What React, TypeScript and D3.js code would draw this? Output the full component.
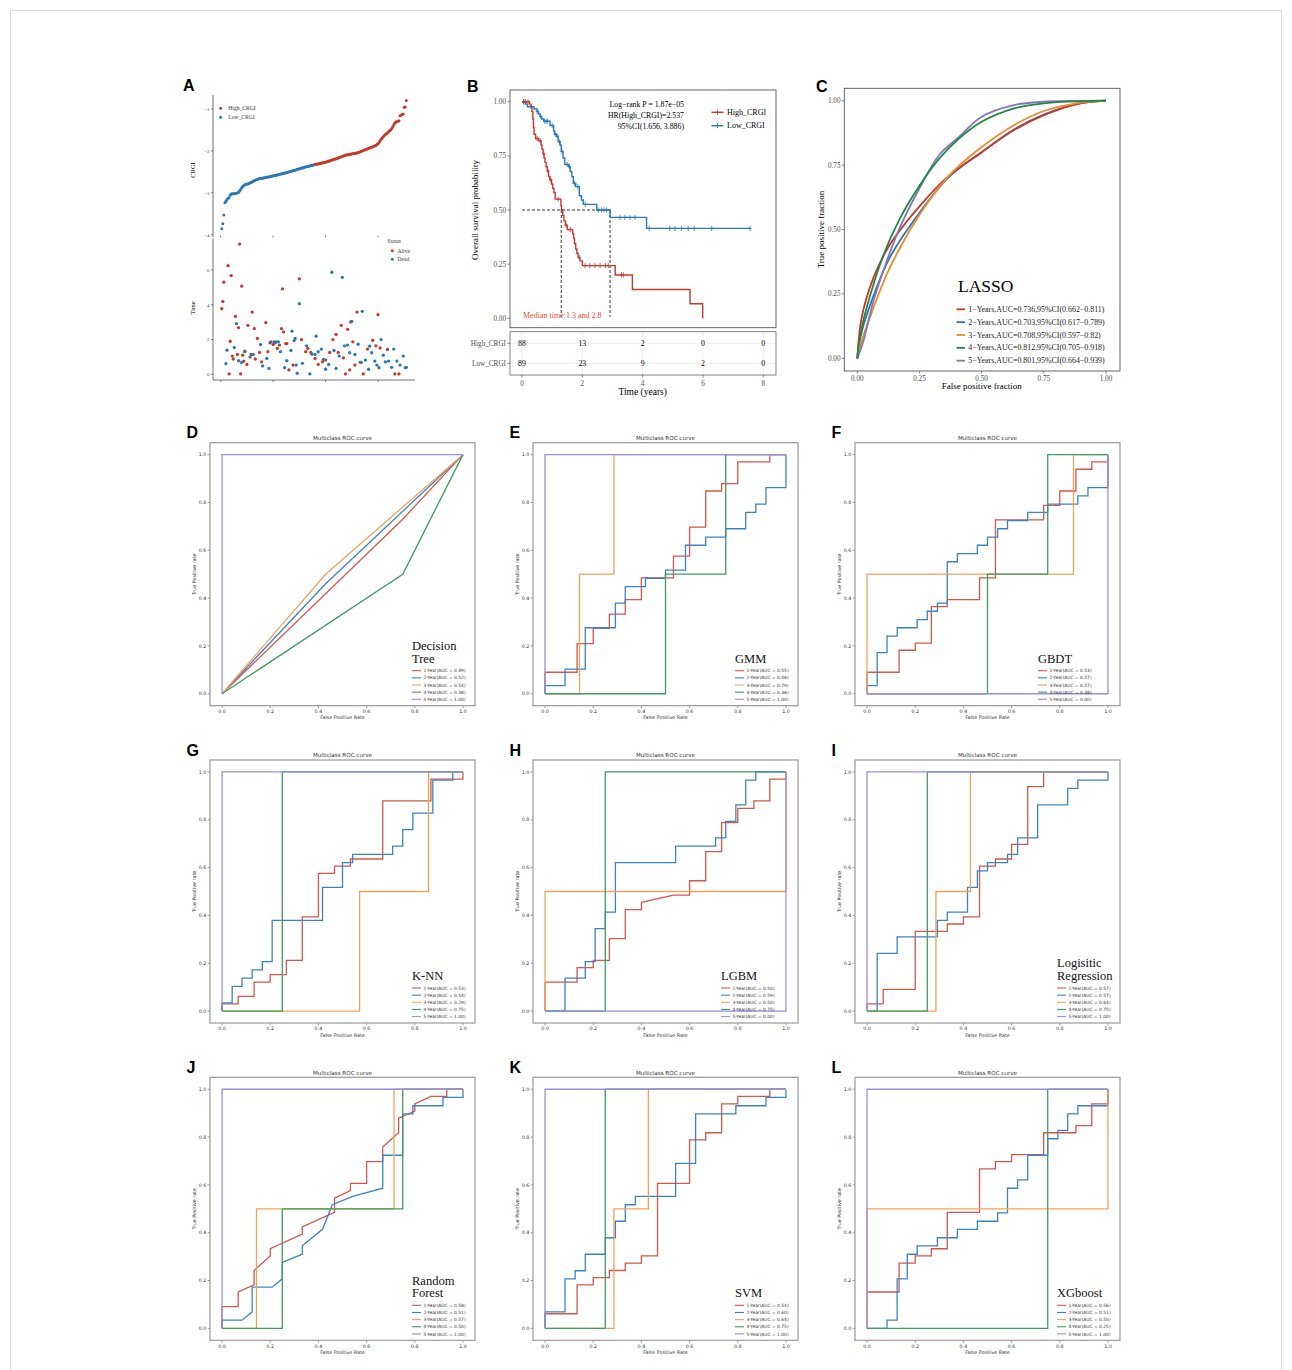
import * as d3 from 'd3';

type Pt = [number, number];

const SERIF = '"Liberation Serif", "Times New Roman", serif';
const SANS = '"DejaVu Sans", sans-serif';
const ARIAL = '"Liberation Sans", Arial, sans-serif';

// ---------------- Panel A : risk score and status ----------------
const crgiLow = [
  -3.86, -3.74, -3.53, -3.24, -3.2, -3.16, -3.13, -3.12, -3.06, -3.03,
  -3.02, -3.02, -3.02, -3.01, -3.01, -3.0, -2.99, -2.96, -2.92, -2.88,
  -2.85, -2.83, -2.81, -2.8, -2.79, -2.79, -2.78, -2.76, -2.75, -2.74,
  -2.72, -2.71, -2.7, -2.69, -2.68, -2.67, -2.66, -2.66, -2.65, -2.65,
  -2.64, -2.64, -2.63, -2.63, -2.62, -2.62, -2.61, -2.61, -2.6, -2.6,
  -2.59, -2.59, -2.58, -2.57, -2.57, -2.56, -2.55, -2.55, -2.54, -2.54,
  -2.53, -2.52, -2.52, -2.51, -2.5, -2.5, -2.49, -2.48, -2.47, -2.47,
  -2.46, -2.45, -2.44, -2.43, -2.43, -2.42, -2.41, -2.41, -2.4, -2.39,
  -2.38, -2.38, -2.37, -2.36, -2.36, -2.35, -2.34, -2.34, -2.33,
];
const crgiHigh = [
  -2.32, -2.32, -2.31, -2.31, -2.3, -2.3, -2.29, -2.29, -2.28, -2.27,
  -2.27, -2.26, -2.25, -2.24, -2.24, -2.23, -2.22, -2.21, -2.2, -2.2,
  -2.19, -2.18, -2.17, -2.16, -2.15, -2.14, -2.13, -2.12, -2.11, -2.1,
  -2.1, -2.09, -2.09, -2.08, -2.08, -2.07, -2.07, -2.06, -2.06, -2.05,
  -2.05, -2.04, -2.03, -2.02, -2.01, -2.0, -1.99, -1.98, -1.97, -1.96,
  -1.95, -1.94, -1.93, -1.92, -1.91, -1.9, -1.89, -1.88, -1.87, -1.85,
  -1.83, -1.8, -1.76, -1.72, -1.69, -1.66, -1.63, -1.61, -1.59, -1.57,
  -1.54, -1.52, -1.5, -1.47, -1.43, -1.38, -1.34, -1.31, -1.3, -1.29,
  -1.28, -1.16, -1.15, -1.13, -1.12, -0.96, -0.95, -0.8,
];
// [patient rank, time in years]
const alivePts: Pt[] = [
  [1, 3.77], [2, 4.19], [3, 5.3], [7, 6.25], [8, 0.02], [9, 1.9], [10, 5.68], [11, 1.05],
  [12, 0.88], [14, 3.33], [16, 1.14], [17, 2.69], [18, 7.49], [19, 0.02], [20, 5.07], [21, 1.1],
  [22, 0.76], [23, 1.33], [25, 0.57], [26, 2.82], [29, 1.14], [30, 3.58], [32, 2.63], [33, 0.88],
  [35, 2.06], [37, 1.26], [39, 0.72], [43, 2.97], [45, 1.3], [47, 1.81], [50, 1.71], [51, 1.87],
  [54, 1.49], [56, 1.68], [58, 2.63], [59, 4.91], [60, 2.44], [62, 1.77], [63, 1.77], [65, 0.25],
  [69, 0.53], [75, 5.49], [77, 2.0], [81, 1.3], [83, 1.49], [86, 1.26], [90, 0.91], [93, 0.57],
  [97, 0.72], [100, 0.82], [104, 1.26], [107, 2.0], [110, 2.29], [112, 1.26], [115, 2.82], [117, 0.95],
  [119, 0.02], [121, 2.59], [123, 0.25], [124, 3.01], [126, 1.87], [128, 0.53], [130, 3.58], [134, 0.69],
  [136, 0.02], [140, 1.45], [145, 1.96], [148, 1.64], [150, 3.43], [152, 1.52], [159, 1.43], [166, 0.02],
  [170, 0.02],
];
const deadPts: Pt[] = [
  [5, 0.61], [6, 1.39], [13, 1.54], [15, 2.91], [17, 0.78], [20, 0.69], [23, 1.3], [28, 0.99],
  [31, 1.14], [38, 1.71], [40, 0.48], [44, 0.91], [46, 0.34], [48, 1.87], [52, 1.81], [53, 1.87],
  [55, 1.87], [57, 1.3], [61, 0.38], [63, 0.78], [67, 1.37], [68, 2.48], [70, 1.94], [71, 2.06],
  [72, 0.53], [73, 0.06], [75, 4.06], [78, 0.63], [82, 1.64], [85, 0.02], [87, 1.16], [90, 1.14],
  [91, 2.19], [93, 1.3], [96, 1.45], [98, 0.86], [100, 0.29], [103, 0.57], [106, 5.87], [108, 1.37],
  [110, 0.34], [113, 1.05], [116, 5.58], [118, 1.64], [121, 1.68], [123, 1.24], [125, 3.05], [128, 1.14],
  [131, 1.73], [133, 0.69], [135, 3.62], [138, 0.82], [141, 0.29], [142, 1.62], [144, 1.24], [147, 0.76],
  [149, 0.53], [151, 0.38], [153, 2.0], [155, 1.1], [157, 0.72], [160, 0.76], [163, 0.4], [165, 1.45],
  [168, 0.76], [171, 0.53], [174, 1.05], [176, 0.38], [177, 0.4],
];

// ---------------- Panel B : Kaplan-Meier ----------------
const kmHighT = [0, 0.25, 0.3, 0.33, 0.36, 0.38, 0.4, 0.45, 0.55, 0.63, 0.66, 0.7, 0.73, 0.76, 0.8, 0.84, 0.88, 0.92, 0.98, 1.02, 1.06, 1.1, 1.29, 1.31, 1.35, 1.39, 1.44, 1.5, 1.68, 1.71, 1.74, 1.78, 1.82, 1.86, 1.92, 2.0, 3.09, 3.66, 5.57, 5.99];
const kmHighS = [1, 0.989, 0.977, 0.955, 0.92, 0.88, 0.85, 0.83, 0.82, 0.8, 0.78, 0.76, 0.74, 0.72, 0.7, 0.68, 0.655, 0.64, 0.62, 0.6, 0.58, 0.55, 0.52, 0.5, 0.475, 0.45, 0.43, 0.41, 0.39, 0.37, 0.345, 0.32, 0.3, 0.28, 0.265, 0.243, 0.2, 0.133, 0.067, 0];
const kmLowT = [0, 0.12, 0.18, 0.4, 0.5, 0.55, 0.6, 0.65, 0.72, 0.93, 1.05, 1.08, 1.15, 1.2, 1.26, 1.3, 1.36, 1.42, 1.55, 1.6, 1.65, 1.7, 1.78, 1.9, 1.97, 2.03, 2.48, 2.92, 4.13, 7.56];
const kmLowS = [1, 0.989, 0.977, 0.966, 0.955, 0.943, 0.932, 0.92, 0.91, 0.89, 0.865, 0.85, 0.84, 0.815, 0.8, 0.77, 0.74, 0.71, 0.7, 0.677, 0.654, 0.623, 0.608, 0.566, 0.546, 0.526, 0.5, 0.466, 0.415, 0.415];
const censorHigh = [0.05, 0.12, 0.2, 0.5, 0.6, 0.72, 0.86, 0.95, 1.2, 1.46, 1.6, 1.9, 2.09, 2.25, 2.42, 2.59, 2.77, 2.86, 3.3, 3.36];
const censorLow = [0.05, 0.1, 0.3, 0.5, 0.62, 0.75, 0.8, 0.85, 1.0, 1.1, 1.17, 1.24, 1.33, 1.5, 1.57, 1.74, 1.85, 2.1, 2.53, 2.64, 2.72, 2.8, 3.25, 3.41, 3.58, 3.75, 4.22, 4.9, 5.07, 5.29, 5.51, 5.71, 6.29, 7.56];
const riskTimes = [0, 2, 4, 6, 8];
const riskHigh = [88, 13, 2, 0, 0];
const riskLow = [89, 23, 9, 2, 0];
const kmGroups = ['High_CRGI', 'Low_CRGI'];

// ---------------- Panel C : LASSO time ROC ----------------
const lassoRed: Pt[] = [[0, 0], [0.017, 0.155], [0.064, 0.31], [0.13, 0.44], [0.25, 0.59], [0.37, 0.71], [0.5, 0.8], [0.63, 0.886], [0.75, 0.944], [0.88, 0.986], [1, 1]];
const lassoBlue: Pt[] = [[0, 0], [0.017, 0.1], [0.064, 0.24], [0.13, 0.39], [0.25, 0.565], [0.37, 0.705], [0.5, 0.8], [0.63, 0.888], [0.75, 0.946], [0.88, 0.987], [1, 1]];
const lassoOrange: Pt[] = [[0, 0], [0.017, 0.065], [0.064, 0.194], [0.13, 0.35], [0.25, 0.557], [0.37, 0.71], [0.5, 0.82], [0.63, 0.905], [0.75, 0.96], [0.88, 0.99], [1, 1]];
const lassoGreen: Pt[] = [[0, 0], [0.01, 0.08], [0.037, 0.194], [0.105, 0.4], [0.17, 0.54], [0.25, 0.67], [0.33, 0.776], [0.41, 0.854], [0.5, 0.918], [0.63, 0.97], [0.75, 0.99], [1, 1]];
const lassoPurple: Pt[] = [[0, 0], [0.024, 0.065], [0.064, 0.22], [0.118, 0.376], [0.17, 0.505], [0.25, 0.66], [0.33, 0.79], [0.41, 0.86], [0.5, 0.938], [0.63, 0.983], [0.75, 0.996], [1, 1]];
const lassoLabels = [
  '1\u2212Years,AUC=0.736,95%CI(0.662\u22120.811)',
  '2\u2212Years,AUC=0.703,95%CI(0.617\u22120.789)',
  '3\u2212Years,AUC=0.708,95%CI(0.597\u22120.82)',
  '4\u2212Years,AUC=0.812,95%CI(0.705\u22120.918)',
  '5\u2212Years,AUC=0.801,95%CI(0.664\u22120.939)',
];
const lassoColors = ['#c9362c', '#2a72b5', '#ee8a2a', '#1f8a3d', '#8575bb'];

// ---------------- Panels D-L : ML model ROC curves ----------------
const rocYears = ['1-Year', '2-Year', '3-Year', '4-Year', '5-Year'];
const rocColors = ['#d4564c', '#3b84c4', '#f2a35a', '#3d9c62', '#9b8fd8'];
const modelLetters = ['D', 'E', 'F', 'G', 'H', 'I', 'J', 'K', 'L'];
const modelTitles = [['Decision', 'Tree'], ['GMM'], ['GBDT'], ['K-NN'], ['LGBM'], ['Logisitic', 'Regression'], ['Random', 'Forest'], ['SVM'], ['XGboost']];

const dtAuc = [0.49, 0.52, 0.54, 0.38, 1.0];
const dtCurves: Pt[][] = [
  [[0, 0], [0.75, 0.73], [1, 1]],
  [[0, 0], [0.43, 0.46], [1, 1]],
  [[0, 0], [0.43, 0.5], [1, 1]],
  [[0, 0], [0.75, 0.5], [1, 1]],
  [[0, 0], [0, 1], [1, 1]],
];
const gmmAuc = [0.55, 0.48, 0.79, 0.38, 1.0];
const gmmCurves: Pt[][] = [
  [[0, 0], [0, 0.09], [0.133, 0.09], [0.133, 0.21], [0.2, 0.21], [0.2, 0.273], [0.267, 0.273], [0.267, 0.333], [0.333, 0.333], [0.333, 0.394], [0.4, 0.394], [0.4, 0.485], [0.533, 0.485], [0.533, 0.576], [0.6, 0.576], [0.6, 0.697], [0.667, 0.697], [0.667, 0.848], [0.733, 0.848], [0.733, 0.879], [0.8, 0.879], [0.8, 0.97], [0.933, 0.97], [0.933, 1], [1, 1]],
  [[0, 0], [0, 0.034], [0.083, 0.034], [0.083, 0.103], [0.167, 0.103], [0.167, 0.276], [0.292, 0.276], [0.292, 0.379], [0.333, 0.379], [0.333, 0.448], [0.417, 0.448], [0.417, 0.483], [0.5, 0.483], [0.5, 0.517], [0.583, 0.517], [0.583, 0.621], [0.667, 0.621], [0.667, 0.655], [0.75, 0.655], [0.75, 0.69], [0.833, 0.69], [0.833, 0.759], [0.875, 0.759], [0.875, 0.793], [0.917, 0.793], [0.917, 0.862], [1, 0.862], [1, 1]],
  [[0, 0], [0.143, 0], [0.143, 0.5], [0.286, 0.5], [0.286, 1], [1, 1]],
  [[0, 0], [0.5, 0], [0.5, 0.5], [0.75, 0.5], [0.75, 1], [1, 1]],
  [[0, 0], [0, 1], [1, 1]],
];
const gbdtAuc = [0.53, 0.57, 0.57, 0.38, 0.0];
const gbdtCurves: Pt[][] = [
  [[0, 0], [0, 0.09], [0.133, 0.09], [0.133, 0.182], [0.2, 0.182], [0.2, 0.212], [0.267, 0.212], [0.267, 0.364], [0.333, 0.364], [0.333, 0.394], [0.467, 0.394], [0.467, 0.485], [0.533, 0.485], [0.533, 0.727], [0.733, 0.727], [0.733, 0.788], [0.8, 0.788], [0.8, 0.848], [0.867, 0.848], [0.867, 0.939], [0.933, 0.939], [0.933, 0.97], [1, 0.97], [1, 1]],
  [[0, 0], [0, 0.034], [0.042, 0.034], [0.042, 0.172], [0.083, 0.172], [0.083, 0.241], [0.125, 0.241], [0.125, 0.276], [0.208, 0.276], [0.208, 0.31], [0.25, 0.31], [0.25, 0.345], [0.292, 0.345], [0.292, 0.379], [0.333, 0.379], [0.333, 0.552], [0.375, 0.552], [0.375, 0.586], [0.458, 0.586], [0.458, 0.621], [0.5, 0.621], [0.5, 0.655], [0.542, 0.655], [0.542, 0.69], [0.583, 0.69], [0.583, 0.724], [0.667, 0.724], [0.667, 0.759], [0.75, 0.759], [0.75, 0.793], [0.875, 0.793], [0.875, 0.828], [0.917, 0.828], [0.917, 0.862], [1, 0.862], [1, 1]],
  [[0, 0], [0, 0.5], [0.857, 0.5], [0.857, 1], [1, 1]],
  [[0, 0], [0.5, 0], [0.5, 0.5], [0.75, 0.5], [0.75, 1], [1, 1]],
  [[0, 0], [1, 0], [1, 1]],
];
const knnAuc = [0.53, 0.54, 0.29, 0.75, 1.0];
const knnCurves: Pt[][] = [
  [[0, 0], [0, 0.03], [0.067, 0.03], [0.067, 0.061], [0.133, 0.061], [0.133, 0.121], [0.2, 0.121], [0.2, 0.152], [0.267, 0.152], [0.267, 0.212], [0.333, 0.212], [0.333, 0.394], [0.4, 0.394], [0.4, 0.576], [0.467, 0.576], [0.467, 0.606], [0.533, 0.606], [0.533, 0.636], [0.667, 0.636], [0.667, 0.879], [0.867, 0.879], [0.867, 0.97], [1, 0.97], [1, 1]],
  [[0, 0], [0, 0.034], [0.042, 0.034], [0.042, 0.103], [0.083, 0.103], [0.083, 0.138], [0.125, 0.138], [0.125, 0.172], [0.167, 0.172], [0.167, 0.207], [0.208, 0.207], [0.208, 0.379], [0.417, 0.379], [0.417, 0.517], [0.5, 0.517], [0.5, 0.621], [0.542, 0.621], [0.542, 0.655], [0.708, 0.655], [0.708, 0.69], [0.75, 0.69], [0.75, 0.759], [0.792, 0.759], [0.792, 0.828], [0.875, 0.828], [0.875, 0.966], [0.958, 0.966], [0.958, 1], [1, 1]],
  [[0, 0], [0.571, 0], [0.571, 0.5], [0.857, 0.5], [0.857, 1], [1, 1]],
  [[0, 0], [0.25, 0], [0.25, 1], [1, 1]],
  [[0, 0], [0, 1], [1, 1]],
];
const lgbmAuc = [0.5, 0.59, 0.5, 0.75, 0.0];
const lgbmCurves: Pt[][] = [
  [[0, 0], [0, 0.121], [0.133, 0.121], [0.133, 0.182], [0.2, 0.182], [0.2, 0.212], [0.267, 0.212], [0.267, 0.303], [0.333, 0.303], [0.333, 0.424], [0.4, 0.424], [0.4, 0.455], [0.533, 0.485], [0.6, 0.485], [0.6, 0.545], [0.667, 0.545], [0.667, 0.667], [0.733, 0.667], [0.733, 0.788], [0.8, 0.788], [0.8, 0.848], [0.867, 0.848], [0.867, 0.879], [0.933, 0.879], [0.933, 0.97], [1, 0.97], [1, 1]],
  [[0, 0], [0.083, 0], [0.083, 0.138], [0.167, 0.138], [0.167, 0.207], [0.208, 0.207], [0.208, 0.345], [0.25, 0.345], [0.25, 0.414], [0.292, 0.414], [0.292, 0.621], [0.542, 0.621], [0.542, 0.69], [0.708, 0.69], [0.708, 0.724], [0.75, 0.724], [0.75, 0.793], [0.792, 0.793], [0.792, 0.862], [0.833, 0.862], [0.833, 0.966], [0.875, 0.966], [0.875, 1], [1, 1]],
  [[0, 0], [0, 0.5], [1, 0.5], [1, 1]],
  [[0, 0], [0.25, 0], [0.25, 1], [1, 1]],
  [[0, 0], [1, 0], [1, 1]],
];
const lrAuc = [0.57, 0.57, 0.64, 0.75, 1.0];
const lrCurves: Pt[][] = [
  [[0, 0], [0, 0.03], [0.067, 0.03], [0.067, 0.091], [0.2, 0.091], [0.2, 0.333], [0.333, 0.333], [0.333, 0.364], [0.4, 0.364], [0.4, 0.394], [0.467, 0.394], [0.467, 0.606], [0.533, 0.606], [0.533, 0.636], [0.6, 0.636], [0.6, 0.697], [0.667, 0.697], [0.667, 0.939], [0.733, 0.939], [0.733, 1], [1, 1]],
  [[0, 0], [0.042, 0], [0.042, 0.241], [0.125, 0.241], [0.125, 0.31], [0.292, 0.31], [0.292, 0.379], [0.333, 0.379], [0.333, 0.414], [0.417, 0.414], [0.417, 0.517], [0.458, 0.517], [0.458, 0.586], [0.5, 0.586], [0.5, 0.621], [0.583, 0.621], [0.583, 0.655], [0.625, 0.655], [0.625, 0.724], [0.708, 0.724], [0.708, 0.862], [0.833, 0.862], [0.833, 0.931], [0.875, 0.931], [0.875, 0.966], [1, 0.966], [1, 1]],
  [[0, 0], [0.286, 0], [0.286, 0.5], [0.429, 0.5], [0.429, 1], [1, 1]],
  [[0, 0], [0.25, 0], [0.25, 1], [1, 1]],
  [[0, 0], [0, 1], [1, 1]],
];
const rfAuc = [0.58, 0.51, 0.57, 0.5, 1.0];
const rfCurves: Pt[][] = [
  [[0, 0], [0, 0.091], [0.067, 0.091], [0.067, 0.152], [0.133, 0.182], [0.133, 0.242], [0.2, 0.303], [0.2, 0.333], [0.333, 0.394], [0.333, 0.424], [0.467, 0.485], [0.467, 0.545], [0.533, 0.576], [0.533, 0.606], [0.6, 0.606], [0.6, 0.697], [0.667, 0.697], [0.667, 0.758], [0.733, 0.818], [0.733, 0.879], [0.8, 0.909], [0.8, 0.939], [0.867, 0.97], [0.933, 0.97], [0.933, 1], [1, 1]],
  [[0, 0], [0, 0.034], [0.083, 0.034], [0.125, 0.069], [0.125, 0.172], [0.208, 0.172], [0.25, 0.207], [0.25, 0.276], [0.333, 0.31], [0.333, 0.345], [0.417, 0.414], [0.458, 0.517], [0.542, 0.552], [0.667, 0.586], [0.667, 0.724], [0.75, 0.724], [0.75, 0.897], [0.792, 0.897], [0.792, 0.931], [0.917, 0.931], [0.917, 0.966], [1, 0.966], [1, 1]],
  [[0, 0], [0.143, 0], [0.143, 0.5], [0.714, 0.5], [0.714, 1], [1, 1]],
  [[0, 0], [0.25, 0], [0.25, 0.5], [0.75, 0.5], [0.75, 1], [1, 1]],
  [[0, 0], [0, 1], [1, 1]],
];
const svmAuc = [0.54, 0.6, 0.64, 0.75, 1.0];
const svmCurves: Pt[][] = [
  [[0, 0], [0, 0.061], [0.133, 0.061], [0.133, 0.182], [0.2, 0.182], [0.2, 0.212], [0.267, 0.212], [0.267, 0.242], [0.333, 0.242], [0.333, 0.273], [0.4, 0.273], [0.4, 0.303], [0.467, 0.303], [0.467, 0.606], [0.6, 0.606], [0.6, 0.788], [0.667, 0.788], [0.667, 0.818], [0.733, 0.818], [0.733, 0.939], [0.8, 0.939], [0.8, 0.97], [0.933, 0.97], [0.933, 1], [1, 1]],
  [[0, 0], [0, 0.069], [0.083, 0.069], [0.083, 0.207], [0.125, 0.207], [0.125, 0.241], [0.167, 0.241], [0.167, 0.31], [0.25, 0.31], [0.25, 0.379], [0.292, 0.379], [0.292, 0.448], [0.333, 0.448], [0.333, 0.517], [0.375, 0.517], [0.375, 0.552], [0.542, 0.552], [0.542, 0.69], [0.625, 0.69], [0.625, 0.897], [0.792, 0.897], [0.792, 0.931], [0.917, 0.931], [0.917, 0.966], [1, 0.966], [1, 1]],
  [[0, 0], [0.286, 0], [0.286, 0.5], [0.429, 0.5], [0.429, 1], [1, 1]],
  [[0, 0], [0.25, 0], [0.25, 1], [1, 1]],
  [[0, 0], [0, 1], [1, 1]],
];
const xgbAuc = [0.56, 0.51, 0.5, 0.25, 1.0];
const xgbCurves: Pt[][] = [
  [[0, 0], [0, 0.152], [0.133, 0.152], [0.133, 0.273], [0.2, 0.273], [0.2, 0.303], [0.267, 0.303], [0.267, 0.333], [0.333, 0.333], [0.333, 0.485], [0.467, 0.485], [0.467, 0.667], [0.533, 0.667], [0.533, 0.697], [0.6, 0.697], [0.6, 0.727], [0.733, 0.727], [0.733, 0.818], [0.867, 0.818], [0.867, 0.848], [0.933, 0.848], [0.933, 0.939], [1, 0.939], [1, 1]],
  [[0, 0], [0.083, 0], [0.083, 0.034], [0.125, 0.034], [0.125, 0.207], [0.167, 0.207], [0.167, 0.31], [0.208, 0.31], [0.208, 0.345], [0.292, 0.345], [0.292, 0.379], [0.375, 0.379], [0.375, 0.414], [0.458, 0.414], [0.458, 0.448], [0.542, 0.448], [0.542, 0.483], [0.583, 0.483], [0.583, 0.586], [0.625, 0.586], [0.625, 0.621], [0.667, 0.621], [0.667, 0.724], [0.75, 0.724], [0.75, 0.793], [0.792, 0.793], [0.792, 0.828], [0.833, 0.828], [0.833, 0.897], [0.875, 0.897], [0.875, 0.931], [1, 0.931], [1, 1]],
  [[0, 0], [0, 0.5], [1, 0.5], [1, 1]],
  [[0, 0], [0.75, 0], [0.75, 1], [1, 1]],
  [[0, 0], [0, 1], [1, 1]],
];

const modelAucs = [dtAuc, gmmAuc, gbdtAuc, knnAuc, lgbmAuc, lrAuc, rfAuc, svmAuc, xgbAuc];
const modelCurves = [dtCurves, gmmCurves, gbdtCurves, knnCurves, lgbmCurves, lrCurves, rfCurves, svmCurves, xgbCurves];

const RED = '#c53a2e';
const BLUE = '#2a78b8';

function PanelA() {
  const x = d3.scaleLinear().domain([0, 150]).range([220.7, 378]);
  const yTop = d3.scaleLinear().domain([-4, -1]).range([234.7, 109]);
  const yBot = d3.scaleLinear().domain([0, 6]).range([374.3, 270]);
  const all = [...crgiLow, ...crgiHigh];
  const xt = [0, 50, 100, 150];
  return (
    <g>
      <text x={183} y={91} fontFamily={ARIAL} fontWeight="bold" fontSize={16}>A</text>
      {/* upper: risk score */}
      <line x1={213} x2={213} y1={95} y2={237} stroke="#333" strokeWidth={0.7} />
      {[-1, -2, -3, -4].map(v => (
        <g key={v}>
          <line x1={211} x2={213} y1={yTop(v)} y2={yTop(v)} stroke="#333" strokeWidth={0.6} />
          <text x={209.5} y={yTop(v) + 1.8} fontSize={5} fontFamily={SERIF} textAnchor="end" fill="#444">{'\u2212' + Math.abs(v)}</text>
        </g>
      ))}
      {xt.map(v => <line key={v} x1={x(v)} x2={x(v)} y1={235.5} y2={237.5} stroke="#333" strokeWidth={0.6} />)}
      <text transform="translate(195,170) rotate(-90)" fontSize={6.5} fontFamily={SERIF} textAnchor="middle">CRGI</text>
      {all.map((v, i) => (
        <circle key={i} cx={x(i + 1)} cy={yTop(v)} r={1.5} fill={i < crgiLow.length ? BLUE : RED} />
      ))}
      <circle cx={220.7} cy={108.3} r={1.5} fill={RED} />
      <text x={228.3} y={110.2} fontSize={5.6} fontFamily={SERIF} fill="#333">High_CRGI</text>
      <circle cx={220.7} cy={117.3} r={1.5} fill={BLUE} />
      <text x={228.3} y={119.2} fontSize={5.6} fontFamily={SERIF} fill="#333">Low_CRGI</text>
      {/* lower: survival time and status */}
      <line x1={213} x2={213} y1={238.5} y2={380} stroke="#333" strokeWidth={0.7} />
      <line x1={213} x2={415} y1={380} y2={380} stroke="#333" strokeWidth={0.7} />
      {[0, 2, 4, 6].map(v => (
        <g key={v}>
          <line x1={211} x2={213} y1={yBot(v)} y2={yBot(v)} stroke="#333" strokeWidth={0.6} />
          <text x={209.5} y={yBot(v) + 1.8} fontSize={5} fontFamily={SERIF} textAnchor="end" fill="#444">{v}</text>
        </g>
      ))}
      {xt.map(v => <line key={v} x1={x(v)} x2={x(v)} y1={380} y2={382} stroke="#333" strokeWidth={0.6} />)}
      <text transform="translate(195,308) rotate(-90)" fontSize={6.5} fontFamily={SERIF} textAnchor="middle">Time</text>
      {alivePts.map((d, i) => <circle key={'a' + i} cx={x(d[0])} cy={yBot(d[1])} r={1.65} fill={RED} />)}
      {deadPts.map((d, i) => <circle key={'d' + i} cx={x(d[0])} cy={yBot(d[1])} r={1.65} fill={BLUE} />)}
      <text x={387.3} y={242.5} fontSize={5.6} fontFamily={SERIF} fill="#333">Status</text>
      <circle cx={392.3} cy={250.7} r={1.5} fill={RED} />
      <text x={397.5} y={252.6} fontSize={5.6} fontFamily={SERIF} fill="#333">Alive</text>
      <circle cx={392.3} cy={259.3} r={1.5} fill={BLUE} />
      <text x={397.5} y={261.2} fontSize={5.6} fontFamily={SERIF} fill="#333">Dead</text>
    </g>
  );
}

function PanelB() {
  const x = d3.scaleLinear().domain([0, 8]).range([522, 763.3]);
  const y = d3.scaleLinear().domain([0, 1]).range([318.3, 101.7]);
  const step = d3.line<Pt>().x(d => x(d[0])).y(d => y(d[1])).curve(d3.curveStepAfter);
  const high: Pt[] = kmHighT.map((t, i) => [t, kmHighS[i]]);
  const low: Pt[] = kmLowT.map((t, i) => [t, kmLowS[i]]);
  const survAt = (T: number[], S: number[], t: number) => S[Math.max(0, d3.bisectRight(T, t) - 1)];
  const mark = (cx: number, cy: number, c: string, k: string) => (
    <g key={k} stroke={c} strokeWidth={0.8}>
      <line x1={cx} x2={cx} y1={cy - 2.6} y2={cy + 2.6} />
      <line x1={cx - 1.6} x2={cx + 1.6} y1={cy} y2={cy} />
    </g>
  );
  const rows = [riskHigh, riskLow];
  const rowY = [343.3, 363.3];
  return (
    <g>
      <text x={467} y={92} fontFamily={ARIAL} fontWeight="bold" fontSize={16}>B</text>
      <rect x={510} y={90} width={266} height={237.7} fill="none" stroke="#555" strokeWidth={0.9} />
      {[0, 0.25, 0.5, 0.75, 1].map(v => (
        <g key={v}>
          <line x1={507.5} x2={510} y1={y(v)} y2={y(v)} stroke="#555" strokeWidth={0.7} />
          <text x={506} y={y(v) + 2.5} fontSize={7.2} fontFamily={SERIF} textAnchor="end" fill="#4d4d4d">{v.toFixed(2)}</text>
        </g>
      ))}
      <text transform="translate(478,210) rotate(-90)" fontSize={9} fontFamily={SERIF} textAnchor="middle">Overall survival probability</text>
      {/* median lines */}
      <g stroke="#000" strokeWidth={0.8} strokeDasharray="3,2" fill="none">
        <line x1={x(0)} x2={x(2.92)} y1={y(0.5)} y2={y(0.5)} />
        <line x1={x(1.3)} x2={x(1.3)} y1={y(0.5)} y2={y(0.007)} />
        <line x1={x(2.92)} x2={x(2.92)} y1={y(0.5)} y2={y(0.007)} />
      </g>
      <path d={step(low) ?? ''} fill="none" stroke={BLUE} strokeWidth={1.4} />
      <path d={step(high) ?? ''} fill="none" stroke={RED} strokeWidth={1.4} />
      {censorLow.map((t, i) => mark(x(t), y(survAt(kmLowT, kmLowS, t)), BLUE, 'cl' + i))}
      {censorHigh.map((t, i) => mark(x(t), y(survAt(kmHighT, kmHighS, t)), RED, 'ch' + i))}
      <text x={684} y={107} fontSize={7.8} fontFamily={SERIF} textAnchor="end">Log{'\u2212'}rank P = 1.87e{'\u2212'}05</text>
      <text x={684} y={118} fontSize={7.8} fontFamily={SERIF} textAnchor="end">HR(High_CRGI)=2.537</text>
      <text x={684} y={129} fontSize={7.8} fontFamily={SERIF} textAnchor="end">95%CI(1.656, 3.886)</text>
      {kmGroups.map((g, i) => {
        const yy = 112.3 + i * 13.4;
        const c = i === 0 ? RED : BLUE;
        return (
          <g key={g}>
            <line x1={711.5} x2={723.5} y1={yy} y2={yy} stroke={c} strokeWidth={1.4} />
            {mark(717.5, yy, c, 'lg' + i)}
            <text x={727} y={yy + 2.6} fontSize={8} fontFamily={SERIF}>{g}</text>
          </g>
        );
      })}
      <text x={523} y={318} fontSize={8} fontFamily={SERIF} fill="#e8443a">Median time:1.3 and 2.8</text>
      {/* risk table */}
      <g stroke="#ebebeb" strokeWidth={0.8}>
        {riskTimes.map(t => <line key={t} x1={x(t)} x2={x(t)} y1={332} y2={375} />)}
        {rowY.map(r => <line key={r} x1={510} x2={776} y1={r} y2={r} />)}
      </g>
      <rect x={510} y={331.7} width={266} height={43.3} fill="none" stroke="#777" strokeWidth={0.9} />
      {kmGroups.map((g, i) => (
        <g key={g}>
          <line x1={507.5} x2={510} y1={rowY[i]} y2={rowY[i]} stroke="#555" strokeWidth={0.7} />
          <text x={506} y={rowY[i] + 2.5} fontSize={7.2} fontFamily={SERIF} textAnchor="end" fill="#4d4d4d">{g}</text>
          {rows[i].map((n, j) => (
            <text key={j} x={x(riskTimes[j])} y={rowY[i] + 2.6} fontSize={7.8} fontFamily={SERIF} textAnchor="middle">{n}</text>
          ))}
        </g>
      ))}
      {riskTimes.map(t => (
        <g key={t}>
          <line x1={x(t)} x2={x(t)} y1={375} y2={377.5} stroke="#555" strokeWidth={0.7} />
          <text x={x(t)} y={385.5} fontSize={7.2} fontFamily={SERIF} textAnchor="middle" fill="#4d4d4d">{t}</text>
        </g>
      ))}
      <text x={642.7} y={395} fontSize={9.5} fontFamily={SERIF} textAnchor="middle">Time (years)</text>
    </g>
  );
}

function PanelC() {
  const x = d3.scaleLinear().domain([0, 1]).range([857.3, 1106]);
  const y = d3.scaleLinear().domain([0, 1]).range([358.3, 100.7]);
  const line = d3.line<Pt>().x(d => x(d[0])).y(d => y(d[1])).curve(d3.curveCatmullRom.alpha(0.5));
  const curves = [lassoRed, lassoBlue, lassoOrange, lassoGreen, lassoPurple];
  const ticks = [0, 0.25, 0.5, 0.75, 1];
  return (
    <g>
      <text x={816} y={92} fontFamily={ARIAL} fontWeight="bold" fontSize={16}>C</text>
      <rect x={844.3} y={88.3} width={275.7} height={282.7} fill="none" stroke="#555" strokeWidth={0.9} />
      {ticks.map(v => (
        <g key={v}>
          <line x1={841.8} x2={844.3} y1={y(v)} y2={y(v)} stroke="#555" strokeWidth={0.7} />
          <text x={840.5} y={y(v) + 2.5} fontSize={7.2} fontFamily={SERIF} textAnchor="end" fill="#4d4d4d">{v.toFixed(2)}</text>
          <line x1={x(v)} x2={x(v)} y1={371} y2={373.5} stroke="#555" strokeWidth={0.7} />
          <text x={x(v)} y={380.5} fontSize={7.2} fontFamily={SERIF} textAnchor="middle" fill="#4d4d4d">{v.toFixed(2)}</text>
        </g>
      ))}
      <text transform="translate(824,229.5) rotate(-90)" fontSize={9} fontFamily={SERIF} textAnchor="middle">True positive fraction</text>
      <text x={981.7} y={389} fontSize={9} fontFamily={SERIF} textAnchor="middle">False positive fraction</text>
      {[1, 0, 2, 4, 3].map(i => (
        <path key={i} d={line(curves[i]) ?? ''} fill="none" stroke={lassoColors[i]} strokeWidth={1.8} />
      ))}
      <text x={958} y={292} fontSize={17.5} fontFamily={SERIF}>LASSO</text>
      {lassoLabels.map((s, i) => {
        const yy = 309.3 + i * 12.85;
        return (
          <g key={s}>
            <line x1={956.5} x2={965} y1={yy} y2={yy} stroke={lassoColors[i]} strokeWidth={1.8} />
            <text x={968.3} y={yy + 2.6} fontSize={7.9} fontFamily={SERIF} fill="#222">{s}</text>
          </g>
        );
      })}
    </g>
  );
}

function RocPanel({ idx }: { idx: number }) {
  const col = idx % 3;
  const row = Math.floor(idx / 3);
  const left = [210, 533, 855][col];
  const top = [442.7, 760, 1077.3][row];
  const w = 265;
  const h = 263;
  const x = d3.scaleLinear().domain([-0.05, 1.05]).range([left, left + w]);
  const y = d3.scaleLinear().domain([-0.05, 1.05]).range([top + h, top]);
  const line = d3.line<Pt>().x(d => x(d[0])).y(d => y(d[1]));
  const ticks = [0, 0.2, 0.4, 0.6, 0.8, 1.0];
  const title = modelTitles[idx];
  const lx = left + (idx === 2 ? 183 : idx === 4 ? 188 : 202);
  const ly = top + 228;
  return (
    <g>
      <text x={left - 23.5} y={top - 4.4} fontFamily={ARIAL} fontWeight="bold" fontSize={16}>{modelLetters[idx]}</text>
      <text x={left + w / 2} y={top - 2.7} fontSize={5.6} fontFamily={SANS} textAnchor="middle" fill="#333">Multiclass ROC curve</text>
      {ticks.map(v => (
        <g key={v}>
          <line x1={x(v)} x2={x(v)} y1={top + h} y2={top + h + 2.4} stroke="#555" strokeWidth={0.6} />
          <text x={x(v)} y={top + h + 7.3} fontSize={4.8} fontFamily={SANS} textAnchor="middle" fill="#333">{v.toFixed(1)}</text>
          <line x1={left - 2.4} x2={left} y1={y(v)} y2={y(v)} stroke="#555" strokeWidth={0.6} />
          <text x={left - 3.6} y={y(v) + 1.7} fontSize={4.8} fontFamily={SANS} textAnchor="end" fill="#333">{v.toFixed(1)}</text>
        </g>
      ))}
      <text x={left + w / 2} y={top + h + 13.5} fontSize={4.8} fontFamily={SANS} textAnchor="middle" fill="#333">False Positive Rate</text>
      <text transform={`translate(${left - 14.5},${top + h / 2}) rotate(-90)`} fontSize={4.8} fontFamily={SANS} textAnchor="middle" fill="#333">True Positive rate</text>
      {modelCurves[idx].map((c, i) => (
        <path key={i} d={line(c) ?? ''} fill="none" stroke={rocColors[i]} strokeWidth={1.3} strokeLinejoin="miter" />
      ))}
      <rect x={left} y={top} width={w} height={h} fill="none" stroke="#999" strokeWidth={1.2} />
      {title.map((s, j) => (
        <text key={s} x={lx} y={top + 220 - (title.length - 1 - j) * 12.7} fontSize={12.5} fontFamily={SERIF} fill="#111">{s}</text>
      ))}
      {rocYears.map((yr, i) => {
        const yy = ly + i * 7.15;
        return (
          <g key={yr}>
            <line x1={lx} x2={lx + 9} y1={yy} y2={yy} stroke={rocColors[i]} strokeWidth={1.1} />
            <text x={lx + 11.5} y={yy + 1.6} fontSize={4.4} fontFamily={SANS} fill="#333">{`${yr}(AUC = ${modelAucs[idx][i].toFixed(2)})`}</text>
          </g>
        );
      })}
    </g>
  );
}

export default function App() {
  return (
    <svg width={1292} height={1370} style={{ position: 'absolute', left: 0, top: 0, background: '#fff' }}>
      <rect x={0} y={0} width={1292} height={1370} fill="#fff" />
      <rect x={10.5} y={10.5} width={1271} height={1380} fill="none" stroke="#dcdcdc" strokeWidth={1} />
      <PanelA />
      <PanelB />
      <PanelC />
      {modelLetters.map((l, i) => <RocPanel key={l} idx={i} />)}
    </svg>
  );
}
